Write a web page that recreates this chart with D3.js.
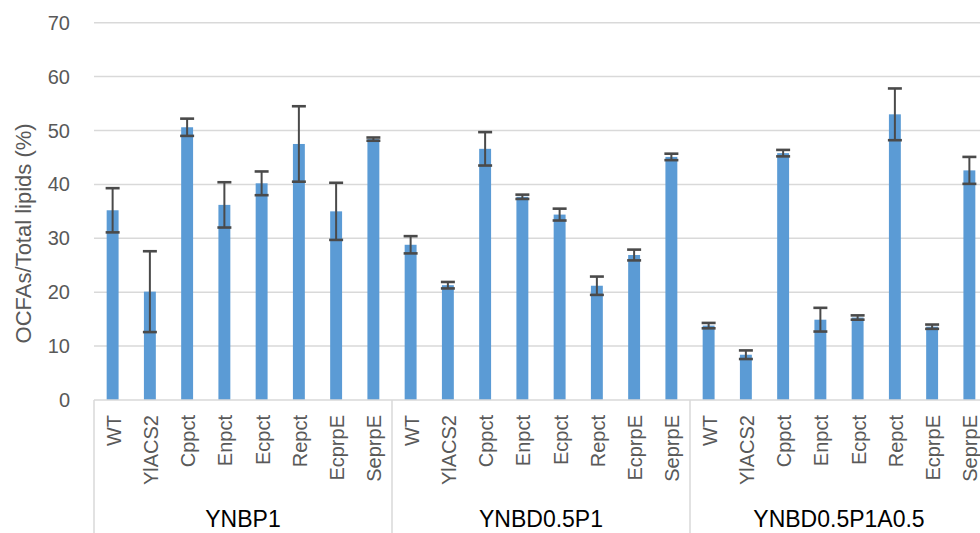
<!DOCTYPE html>
<html>
<head>
<meta charset="utf-8">
<script src="https://cdn.jsdelivr.net/npm/d3@7"></script>
<style>
  body { margin: 0; background: #fff; }
  svg { display: block; font-family: "Liberation Sans", Arial, sans-serif; }
</style>
</head>
<body>
<svg id="chart" width="980" height="533"></svg>
<script>
// strains within each medium, and the media groups
const strains = ["WT", "YlACS2", "Cppct", "Enpct", "Ecpct", "Repct", "EcprpE", "SeprpE"];
const media = ["YNBP1", "YNBD0.5P1", "YNBD0.5P1A0.5"];

// OCFAs / total lipids (%) per medium, with standard deviations
const valsP1 = [35.2, 20.1, 50.6, 36.2, 40.2, 47.5, 35.0, 48.4];
const errP1 = [4.1, 7.5, 1.6, 4.2, 2.2, 7.0, 5.3, 0.3];
const valsD05P1 = [28.8, 21.3, 46.6, 37.7, 34.4, 21.2, 26.9, 45.1];
const errD05P1 = [1.6, 0.6, 3.1, 0.4, 1.1, 1.7, 1.0, 0.6];
const valsD05P1A05 = [13.8, 8.4, 45.8, 14.9, 15.3, 53.0, 13.6, 42.6];
const errD05P1A05 = [0.5, 0.8, 0.6, 2.2, 0.4, 4.8, 0.4, 2.5];

const yTicks = [0, 10, 20, 30, 40, 50, 60, 70];

const allVals = [valsP1, valsD05P1, valsD05P1A05];
const allErrs = [errP1, errD05P1, errD05P1A05];

const data = [];
media.forEach((m, gi) => {
    strains.forEach((s, si) => {
        data.push({ key: m + "|" + s, medium: m, strain: s, value: allVals[gi][si], err: allErrs[gi][si] });
    });
});

const svg = d3.select("#chart");
const plotLeft = 94, plotRight = 988, plotBottom = 400, plotTop = 22.7;
const grey = "#d9d9d9";
const textCol = "#595959";

const x = d3.scaleBand()
    .domain(data.map(d => d.key))
    .range([plotLeft, plotRight])
    .paddingInner(0.68)
    .paddingOuter(0.34);

const y = d3.scaleLinear().domain([0, 70]).range([plotBottom, plotTop]);

// gridlines
svg.append("g")
    .selectAll("line")
    .data(yTicks.filter(t => t > 0))
    .join("line")
    .attr("x1", plotLeft).attr("x2", 980)
    .attr("y1", d => y(d)).attr("y2", d => y(d))
    .attr("stroke", grey).attr("stroke-width", 1.5);

// y tick labels
svg.append("g")
    .selectAll("text")
    .data(yTicks)
    .join("text")
    .attr("x", 70).attr("y", d => y(d))
    .attr("dy", "0.35em")
    .attr("text-anchor", "end")
    .attr("font-size", 20)
    .attr("fill", textCol)
    .text(d => d);

// y title
svg.append("text")
    .attr("transform", `translate(31,${(plotBottom + plotTop) / 2 + 22}) rotate(-90)`)
    .attr("text-anchor", "middle")
    .attr("font-size", 22)
    .attr("fill", textCol)
    .text("OCFAs/Total lipids (%)");

// bars
svg.append("g")
    .selectAll("rect")
    .data(data)
    .join("rect")
    .attr("x", d => x(d.key))
    .attr("y", d => y(d.value))
    .attr("width", x.bandwidth())
    .attr("height", d => y(0) - y(d.value))
    .attr("fill", "#5b9bd5");

// error bars
const eb = svg.append("g")
    .attr("stroke", "#4a4a4a")
    .selectAll("g")
    .data(data)
    .join("g");
const cx = d => x(d.key) + x.bandwidth() / 2;
eb.append("line")
    .attr("x1", cx).attr("x2", cx)
    .attr("y1", d => y(d.value + d.err)).attr("y2", d => y(d.value - d.err))
    .attr("stroke-width", 2);
eb.append("line")
    .attr("x1", d => cx(d) - 7).attr("x2", d => cx(d) + 7)
    .attr("y1", d => y(d.value + d.err)).attr("y2", d => y(d.value + d.err))
    .attr("stroke-width", 2.6);
eb.append("line")
    .attr("x1", d => cx(d) - 7).attr("x2", d => cx(d) + 7)
    .attr("y1", d => y(d.value - d.err)).attr("y2", d => y(d.value - d.err))
    .attr("stroke-width", 2.6);

// category axis line and group separators
svg.append("line")
    .attr("x1", plotLeft).attr("x2", 980)
    .attr("y1", plotBottom).attr("y2", plotBottom)
    .attr("stroke", grey).attr("stroke-width", 1.5);

const step = x.step();
svg.append("g")
    .selectAll("line")
    .data(media.map((m, i) => i))
    .join("line")
    .attr("x1", i => plotLeft + i * strains.length * step)
    .attr("x2", i => plotLeft + i * strains.length * step)
    .attr("y1", plotBottom).attr("y2", 533)
    .attr("stroke", grey).attr("stroke-width", 1.5);

// strain labels
svg.append("g")
    .selectAll("text")
    .data(data)
    .join("text")
    .attr("transform", d => `translate(${cx(d) + 8},415) rotate(-90)`)
    .attr("text-anchor", "end")
    .attr("font-size", 20)
    .attr("fill", textCol)
    .text(d => d.strain);

// medium labels
svg.append("g")
    .selectAll("text")
    .data(media)
    .join("text")
    .attr("x", (m, i) => plotLeft + (i + 0.5) * strains.length * step)
    .attr("y", 527)
    .attr("text-anchor", "middle")
    .attr("font-size", 23)
    .attr("fill", "#000")
    .text(d => d);
</script>
</body>
</html>
